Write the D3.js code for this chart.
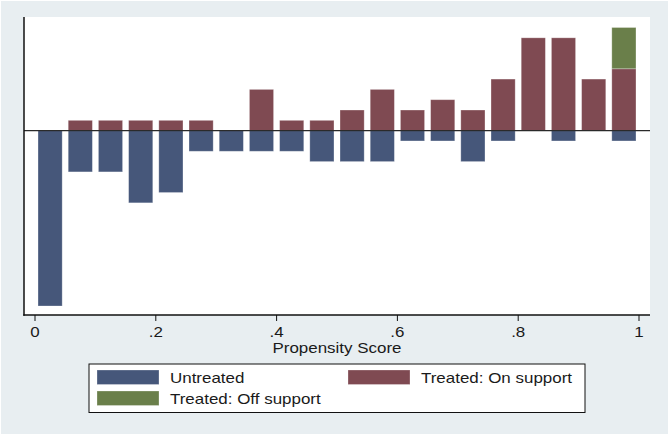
<!DOCTYPE html>
<html>
<head>
<meta charset="utf-8">
<script src="https://cdn.jsdelivr.net/npm/d3@7"></script>
<style>
  html, body { margin: 0; padding: 0; background: #ffffff; }
  svg { display: block; }
  text { font-family: "Liberation Sans", Arial, Helvetica, sans-serif; fill: #1a1a1a; }
</style>
</head>
<body>
<svg id="chart" width="669" height="435"></svg>
<script>
// ---- data ----
const binMids    = [0.025,0.075,0.125,0.175,0.225,0.275,0.325,0.375,0.425,0.475,0.525,0.575,0.625,0.675,0.725,0.775,0.825,0.875,0.925,0.975];
const untreated  = [17,4,4,7,6,2,2,2,2,3,3,3,1,1,3,1,0,1,0,1];
const treatedOn  = [0,1,1,1,1,1,0,4,1,1,2,4,2,3,2,5,9,9,5,6];
const treatedOff = [0,0,0,0,0,0,0,0,0,0,0,0,0,0,0,0,0,0,0,4];
const xTicks     = [0,0.2,0.4,0.6,0.8,1];
const xTickLabels = ["0",".2",".4",".6",".8","1"];
const seriesNames = ["Untreated","Treated: On support","Treated: Off support"];
const colors = ["#46577a","#7f4a52","#6a7f4a"];

const svg = d3.select("#chart");
const W = 669, H = 435;
const barW = 0.04;
const sx = 1.13; // horizontal text stretch

// background
svg.append("rect").attr("x",0).attr("y",0).attr("width",W).attr("height",H).attr("fill","#ffffff");
svg.append("rect").attr("x",1).attr("y",1).attr("width",W-2).attr("height",H-2).attr("fill","#e8eef1");

// plot region
const pr = {left:24, right:650, top:17, bottom:315};
svg.append("rect").attr("x",pr.left).attr("y",pr.top)
  .attr("width",pr.right-pr.left).attr("height",pr.bottom-pr.top).attr("fill","#ffffff");

const x = d3.scaleLinear().domain([0,1]).range([35,639]);
const y = d3.scaleLinear().domain([-17,10]).range([306,27.5]);

const g = svg.append("g");

function bars(vals, base, sign, color) {
  g.selectAll(null).data(vals.map((v,i)=>({v, b: base ? base[i] : 0, m: binMids[i]})))
    .enter().filter(d=>d.v>0).append("rect")
    .attr("x", d=>x(d.m-barW/2))
    .attr("width", d=>x(d.m+barW/2)-x(d.m-barW/2))
    .attr("y", d=> sign>0 ? y(d.b+d.v) : y(0))
    .attr("height", d=> sign>0 ? y(d.b)-y(d.b+d.v) : y(-d.v)-y(0))
    .attr("fill", color)
    .attr("stroke", "#ffffff").attr("stroke-opacity",0.35).attr("stroke-width",0.8);
}
bars(untreated, null, -1, colors[0]);
bars(treatedOn, null, 1, colors[1]);
bars(treatedOff, treatedOn, 1, colors[2]);

// zero line
svg.append("line").attr("x1",pr.left).attr("x2",pr.right).attr("y1",y(0)).attr("y2",y(0))
  .attr("stroke","#2a2a2a").attr("stroke-width",1.2);

// axes lines
svg.append("line").attr("x1",pr.left).attr("x2",pr.left).attr("y1",pr.top).attr("y2",pr.bottom+0.75)
  .attr("stroke","#111").attr("stroke-width",1.5);
const xAxis = d3.axisBottom(x).tickValues(xTicks).tickFormat((d,i)=>xTickLabels[i]).tickSize(6).tickSizeOuter(0);
const ax = svg.append("g").attr("transform",`translate(0,${pr.bottom})`).call(xAxis);
ax.select(".domain").remove();
ax.selectAll(".tick line").attr("stroke","#111").attr("stroke-width",1);
ax.selectAll(".tick text").attr("font-size","15px").attr("dy",null).attr("y",22)
  .attr("font-family","Liberation Sans, Arial, sans-serif").attr("fill","#1a1a1a")
  .attr("transform",`scale(${sx},1)`).attr("x",0);
ax.selectAll(".tick").each(function(d){
  d3.select(this).attr("transform",`translate(${x(d)},0)`);
});
svg.append("line").attr("x1",pr.left-0.75).attr("x2",pr.right).attr("y1",pr.bottom).attr("y2",pr.bottom)
  .attr("stroke","#111").attr("stroke-width",1.5);

// axis title
svg.append("text").attr("transform",`translate(${x(0.5)},353) scale(${sx},1)`)
  .attr("text-anchor","middle").attr("font-size","15px").text("Propensity Score");

// legend
svg.append("rect").attr("x",89).attr("y",364).attr("width",496).attr("height",48.5)
  .attr("fill","#ffffff").attr("stroke","#111").attr("stroke-width",1);
const legItems = [
  {name:seriesNames[0], c:colors[0], sx:97, ty:370},
  {name:seriesNames[1], c:colors[1], sx:348, ty:370},
  {name:seriesNames[2], c:colors[2], sx:97, ty:391}
];
legItems.forEach(it=>{
  svg.append("rect").attr("x",it.sx).attr("y",it.ty).attr("width",62).attr("height",14.5)
    .attr("fill",it.c).attr("stroke","#ffffff").attr("stroke-opacity",0.35).attr("stroke-width",0.8);
  svg.append("text").attr("transform",`translate(${it.sx+73},${it.ty+13}) scale(${sx},1)`)
    .attr("font-size","15px").text(it.name);
});
</script>
</body>
</html>
